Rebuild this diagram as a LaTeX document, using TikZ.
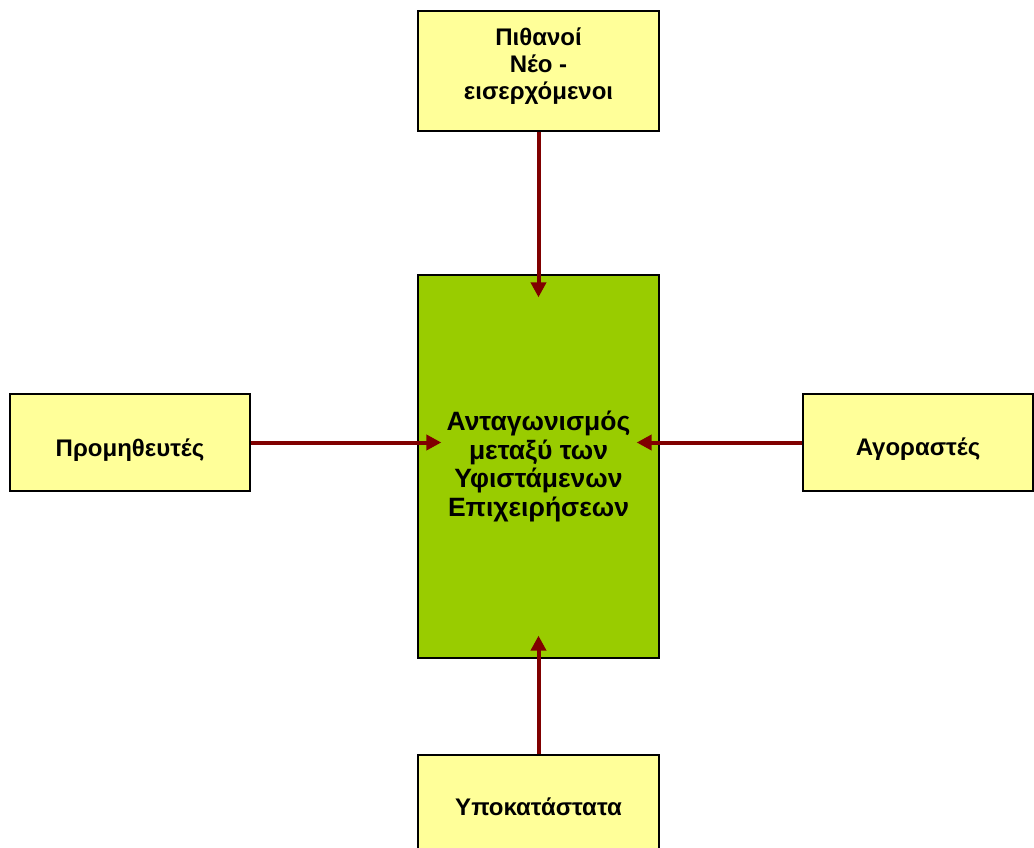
\documentclass[tikz,border=0pt]{standalone}
\usepackage{fontspec}
\setmainfont{Liberation Sans}
\usetikzlibrary{arrows.meta}
\definecolor{boxyellow}{HTML}{FFFF99}
\definecolor{boxgreen}{HTML}{99CC00}
\definecolor{arrowred}{HTML}{800000}
\tikzset{
  forcebox/.style={draw=black, line width=1.3pt, fill=boxyellow, inner sep=0pt,
    align=center, font=\fontsize{24}{27.3}\selectfont\bfseries,
    minimum width=241pt},
  centerbox/.style={draw=black, line width=1.3pt, fill=boxgreen, inner sep=0pt,
    align=center, font=\fontsize{26.5}{28.7}\selectfont\bfseries,
    minimum width=241pt, minimum height=383pt},
  forcearrow/.style={draw=arrowred, line width=4pt,
    -{Triangle[length=15pt,width=15pt]}}
}
\begin{document}
\begin{tikzpicture}[x=1pt,y=-1pt]
\useasboundingbox (0,0) rectangle (1034,848);
\begin{scope}
\clip (0,0) rectangle (1034,848);
\node[centerbox] (comp) at (538.5,466.5)
  {Ανταγωνισμός\\μεταξύ των\\Υφιστάμενων\\Επιχειρήσεων};
\node[forcebox, minimum height=120pt, text depth=15pt] (entrants) at (538.5,71)
  {Πιθανοί\\Νέο -\\εισερχόμενοι};
\node[forcebox, minimum width=240pt, minimum height=97pt,
      text height=31pt, text depth=4pt] (suppliers) at (130,442.5)
  {Προμηθευτές};
\node[forcebox, minimum width=230pt, minimum height=97pt,
      text height=30pt, text depth=4pt] (buyers) at (918,442.5)
  {Αγοραστές};
\node[forcebox, minimum height=120pt, text height=10pt, text depth=10pt]
  (subst) at (538.5,815)
  {Υποκατάστατα};
\draw[forcearrow] (entrants.south) -- ([yshift=-23pt]comp.north);
\draw[forcearrow] (suppliers.east) -- ([xshift=24pt]suppliers.east -| comp.west);
\draw[forcearrow] (buyers.west) -- ([xshift=-23pt]buyers.west -| comp.east);
\draw[forcearrow] (subst.north) -- ([yshift=23pt]comp.south);
\end{scope}
\end{tikzpicture}
\end{document}
